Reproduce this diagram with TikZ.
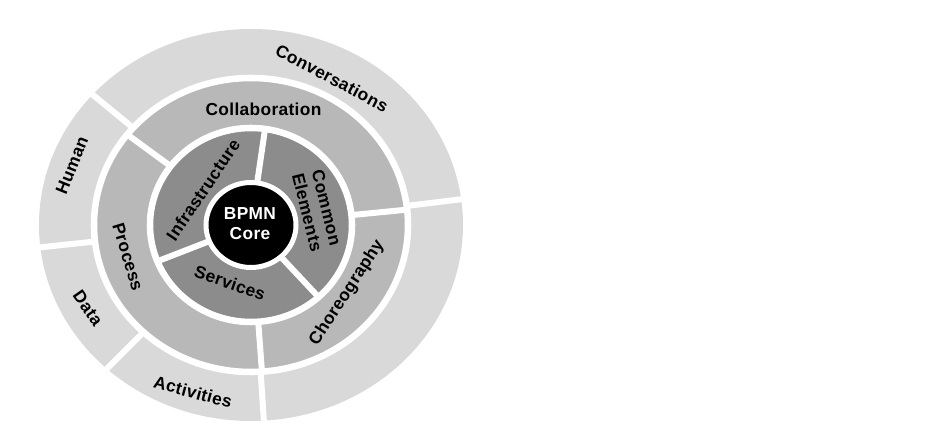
\documentclass[tikz,border=0pt]{standalone}
\usepackage{fontspec}
\setmainfont{Liberation Sans}[LetterSpace=2]
\definecolor{BPOuter}{HTML}{D9D9D9}
\definecolor{BPMiddle}{HTML}{B8B8B8}
\definecolor{BPInner}{HTML}{8C8C8C}

\begin{document}
\begin{tikzpicture}[x=0.75pt, y=0.75pt,
    every node/.style={font=\bfseries\fontsize{13}{15}\selectfont, align=center, inner sep=0pt},
    ringgap/.style={draw=white, line width=4.9pt},
    spoke/.style={white, line width=4.5pt}]
  \useasboundingbox (-251,-223) rectangle (684,225);
  % outer ring
  \fill[BPOuter] (0,0) ellipse [x radius=212, y radius=196];
  \foreach \a in {138.5, 7.5, 186.5, 227, 273.5}
    \draw[spoke] (0,0) -- (\a:230 and 214);
  % middle ring
  \filldraw[fill=BPMiddle, ringgap] (0,0) ellipse [x radius=157, y radius=147];
  \foreach \a in {142, 6, 274}
    \draw[spoke] (0,0) -- (\a:157 and 147);
  % inner ring
  \filldraw[fill=BPInner, ringgap] (0,0) ellipse [x radius=101, y radius=97];
  \foreach \a in {82, 202, 312}
    \draw[spoke] (0,0) -- (\a:101 and 97);
  % core
  \filldraw[fill=black, draw=white, line width=3.75pt] (0,0) ellipse [x radius=45, y radius=42.5];
  \node[white] (core) at (-1,1) {BPMN\\Core};
  % labels
  \node[rotate=-28] (conv) at (81,147) {Conversations};
  \node (collab) at (12.5,116) {Collaboration};
  \node[rotate=68] (human) at (-179,60) {Human};
  \node[rotate=-55] (data) at (-163,-83) {Data};
  \node[rotate=-15] (activ) at (-58,-167) {Activities};
  \node[rotate=-73] (proc) at (-123,-32) {Process};
  \node[rotate=57] (choreo) at (96,-68) {Choreography};
  \node[rotate=56] (infra) at (-48,35) {Infrastructure};
  \node[rotate=-76] (common) at (66,15) {Common\\Elements};
  \node[rotate=-19] (serv) at (-21,-58) {Services};
\end{tikzpicture}
\end{document}
